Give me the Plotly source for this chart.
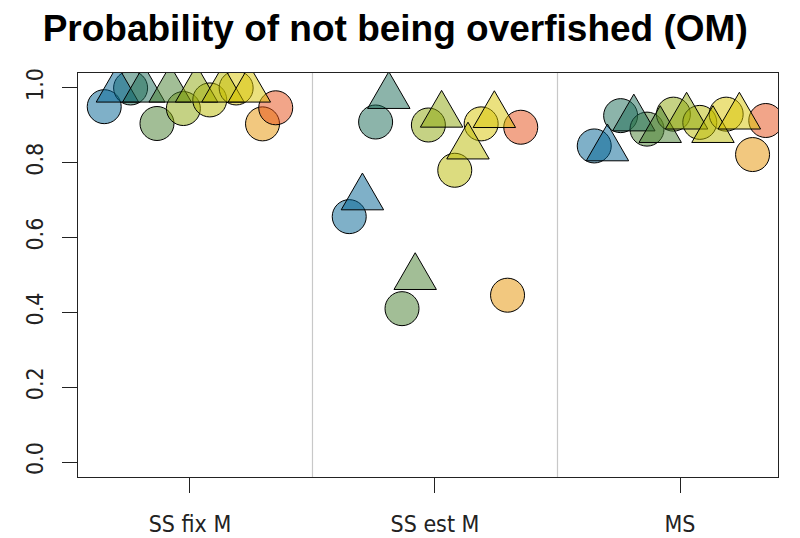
import math
import plotly.graph_objects as go

# Methods compared on the x axis
categories = ["SS fix M", "SS est M", "MS"]

# Fill colours of the eight scenarios (semi-transparent)
scenario_colors = [
    "rgba(0,97,145,0.5)",     # blue
    "rgba(25,105,85,0.5)",    # teal
    "rgba(70,125,45,0.5)",    # sage
    "rgba(140,165,10,0.5)",   # olive
    "rgba(185,185,0,0.5)",    # yellow-green
    "rgba(215,195,0,0.5)",    # yellow
    "rgba(230,145,0,0.5)",    # orange
    "rgba(230,75,20,0.5)",    # salmon
]

# Probability of not being overfished, circle symbols (8 scenarios per method)
circle_ss_fix = [0.950, 1.000, 0.905, 0.945, 0.968, 1.000, 0.904, 0.947]
circle_ss_est = [0.656, 0.909, 0.410, 0.901, 0.780, 0.904, 0.446, 0.895]
circle_ms = [0.845, 0.926, 0.890, 0.930, 0.908, 0.930, 0.822, 0.913]

# Triangle symbols (first six scenarios per method)
triangle_ss_fix = [0.995, 0.995, 0.995, 0.995, 0.995, 0.995]
triangle_ss_est = [0.707, 0.978, 0.494, 0.928, 0.843, 0.927]
triangle_ms = [0.838, 0.918, 0.887, 0.923, 0.887, 0.923]

y_ticks = [0.0, 0.2, 0.4, 0.6, 0.8, 1.0]

circles = [circle_ss_fix, circle_ss_est, circle_ms]
triangles = [triangle_ss_fix, triangle_ss_est, triangle_ms]

# Each method is spread over 14 slots: circle/triangle pairs, then two circles
n_slots = 14
half_width = 0.35
slot_step = 2 * half_width / (n_slots - 1)

CIRCLE_SIZE = 34
TRI_R = 24.5  # circumradius of the equilateral triangle symbol, px


def slot_offset(slot):
    return -half_width + slot * slot_step


# Equilateral triangle path (pixel units, y up) centred on its centroid
tri_hw = TRI_R * math.sqrt(3) / 2
tri_path = (f"M {-tri_hw:.2f} {-TRI_R / 2:.2f} L {tri_hw:.2f} {-TRI_R / 2:.2f} "
            f"L 0 {TRI_R:.2f} Z")

fig = go.Figure()

for i, color in enumerate(scenario_colors):
    c_slot = 2 * i if i < 6 else 12 + (i - 6)
    fig.add_trace(go.Scatter(
        x=[m + 1 + slot_offset(c_slot) for m in range(len(categories))],
        y=[circles[m][i] for m in range(len(categories))],
        mode="markers",
        marker=dict(symbol="circle", size=CIRCLE_SIZE, color=color,
                    line=dict(color="black", width=1)),
        showlegend=False,
        hoverinfo="y",
    ))
    if i < 6:
        t_slot = 2 * i + 1
        for m in range(len(categories)):
            fig.add_shape(
                type="path", xref="x", yref="y",
                xsizemode="pixel", ysizemode="pixel",
                xanchor=m + 1 + slot_offset(t_slot), yanchor=triangles[m][i],
                path=tri_path, fillcolor=color,
                line=dict(color="black", width=1),
            )

# Light separators between the method panels
for xv in (1.5, 2.5):
    fig.add_shape(type="line", xref="x", yref="paper", x0=xv, x1=xv, y0=0, y1=1,
                  line=dict(color="#c8c8c8", width=1.2), layer="below")

tick_font = dict(family="Liberation Sans Narrow, DejaVu Sans Condensed, Arial Narrow, sans-serif",
                 size=23, color="#222222")

fig.update_layout(
    width=800, height=538,
    margin=dict(l=78, r=22, t=73, b=61),
    paper_bgcolor="white", plot_bgcolor="white",
    title=dict(text="<b>Probability of not being overfished (OM)</b>",
               x=0.494, xanchor="center", y=1 - 28 / 538, yanchor="middle",
               font=dict(family="Liberation Sans, Arial, sans-serif", size=37, color="black")),
    xaxis=dict(range=[0.543, 3.4], tickvals=[1, 2, 3], ticktext=categories,
               ticks="outside", ticklen=15, tickcolor="#222222", tickwidth=1,
               showline=True, linecolor="#222222", linewidth=1, mirror=True,
               showgrid=False, zeroline=False, tickfont=tick_font,
               ticklabelstandoff=11, automargin=False),
    yaxis=dict(range=[-0.04, 1.04], tickvals=y_ticks,
               ticktext=[f"{v:.1f}" for v in y_ticks], tickangle=-90,
               ticks="outside", ticklen=15, tickcolor="#222222", tickwidth=1,
               showline=True, linecolor="#222222", linewidth=1, mirror=True,
               showgrid=False, zeroline=False, tickfont=tick_font,
               ticklabelstandoff=10, automargin=False),
)

fig.write_html("out.html")
